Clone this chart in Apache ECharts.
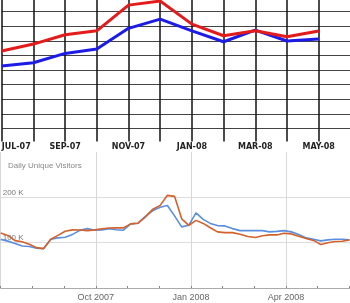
<!DOCTYPE html>
<html>
<head>
<meta charset="utf-8">
<script src="https://cdn.jsdelivr.net/npm/echarts@6/dist/echarts.min.js"></script>
<style>
html,body{margin:0;padding:0;background:#fff;}
#c{width:350px;height:303px;}
</style>
</head>
<body>
<div id="c"></div>
<script>
// ---- top chart (monthly) ----
var monthLabels = ['JUL-07','AUG-07','SEP-07','OCT-07','NOV-07','DEC-07','JAN-08','FEB-08','MAR-08','APR-08','MAY-08','JUN-08'];
var redMonthly  = [5.30, 5.78, 6.42, 6.69, 8.45, 8.73, 7.15, 6.35, 6.69, 6.28, 6.67, null];
var blueMonthly = [4.27, 4.50, 5.14, 5.44, 6.86, 7.49, 6.69, 5.94, 6.74, 5.99, 6.12, null];

// ---- bottom chart (weekly, Daily Unique Visitors, in K) ----
var weekDates = [
 '2007-07-01','2007-07-08','2007-07-15','2007-07-22','2007-07-29',
 '2007-08-05','2007-08-12','2007-08-19','2007-08-26',
 '2007-09-02','2007-09-09','2007-09-16','2007-09-23','2007-09-30',
 '2007-10-07','2007-10-14','2007-10-21','2007-10-28',
 '2007-11-04','2007-11-11','2007-11-18','2007-11-25',
 '2007-12-02','2007-12-09','2007-12-16','2007-12-23','2007-12-30',
 '2008-01-06','2008-01-13','2008-01-20','2008-01-27',
 '2008-02-03','2008-02-10','2008-02-17','2008-02-24',
 '2008-03-02','2008-03-09','2008-03-16','2008-03-23','2008-03-30',
 '2008-04-06','2008-04-13','2008-04-20','2008-04-27',
 '2008-05-04','2008-05-11','2008-05-18','2008-05-25',
 '2008-06-01'];
var blueDaily = [107.2,103.4,98.3,92.8,91.7,87.7,86.9,107.6,110.5,112.0,118.2,127.1,131.0,127.5,128.2,131.0,128.6,127.5,141.4,143.0,158.0,170.8,178.3,181.9,159.1,134.8,138.6,165.7,151.4,142.5,137.7,137.0,131.0,126.6,126.6,126.6,126.6,123.8,124.9,126.6,123.8,118.0,110.5,107.6,103.9,106.1,107.6,107.6,106.1];
var redDaily  = [121.5,116.0,104.5,101.9,96.6,89.1,86.9,107.6,116.0,125.3,128.2,128.0,126.6,128.2,130.8,132.2,132.6,132.6,141.4,143.0,156.9,173.9,182.3,204.4,202.2,152.5,138.1,149.2,142.5,133.0,123.8,122.2,122.2,118.5,113.6,111.4,115.4,117.1,117.1,120.7,119.3,114.3,109.4,105.0,96.1,99.9,102.5,103.0,106.1];
var dailyTickLabels = {3:'Oct 2007', 6:'Jan 2008', 9:'Apr 2008'};
var visitorTickLabels = {100:'100 K', 200:'200 K'};

function monthPos(s){
  var p = s.split('-'), y = +p[0], m = +p[1], d = +p[2];
  var dim = new Date(y, m, 0).getDate();
  return (y - 2007) * 12 + (m - 7) + (d - 1) / dim;
}
var bluePts = weekDates.map(function(d,i){return [monthPos(d), blueDaily[i]];});
var redPts  = weekDates.map(function(d,i){return [monthPos(d), redDaily[i]];});

var chart = echarts.init(document.getElementById('c'), null, {renderer:'canvas'});
chart.setOption({
  animation:false,
  backgroundColor:'#fff',
  title:{
    text:'Daily Unique Visitors', left:3, top:157,
    textStyle:{fontSize:8, fontWeight:'normal', color:'#888', fontFamily:'Liberation Sans'}
  },
  grid:[
    {left:1.7, top:-2.9, width:348.7, height:131.3, outerBoundsMode:'none', containLabel:false},
    {left:0.7, top:152, width:380.4, height:136, outerBoundsMode:'none', containLabel:false}
  ],
  xAxis:[
    {gridIndex:0, type:'category', data:monthLabels, boundaryGap:false,
     axisLine:{show:false},
     axisTick:{show:true, interval:0, length:13, lineStyle:{color:'#111', width:1.5}},
     axisLabel:{interval:1, margin:15, fontSize:8, fontWeight:'bold', color:'#222', fontFamily:'DejaVu Sans', alignMinLabel:'left'},
     splitLine:{show:true, interval:0, lineStyle:{color:'#111', width:1.5}}},
    {gridIndex:1, type:'value', min:0, max:12, interval:1,
     axisLine:{show:true, lineStyle:{color:'#aaa', width:1}},
     axisTick:{show:true, inside:true, length:2, lineStyle:{color:'#888'}},
     axisLabel:{margin:5, fontSize:9, color:'#666', fontFamily:'Liberation Sans',
       formatter:function(v){return dailyTickLabels[Math.round(v)] || '';}},
     splitLine:{show:true, lineStyle:{color:['#d8d8d8','rgba(0,0,0,0)','rgba(0,0,0,0)'], width:1}}}
  ],
  yAxis:[
    {gridIndex:0, type:'value', min:0, max:9, interval:1,
     axisLine:{show:false}, axisTick:{show:false}, axisLabel:{show:false},
     splitLine:{show:true, lineStyle:{color:'#444', width:1}}},
    {gridIndex:1, type:'value', min:0, max:300, interval:100,
     axisLine:{show:false}, axisTick:{show:false},
     axisLabel:{inside:true, margin:2, fontSize:8, color:'#777', fontFamily:'Liberation Sans', verticalAlign:'bottom', padding:[0,0,1,0],
       formatter:function(v){return visitorTickLabels[v] || '';}},
     splitLine:{show:true, showMinLine:false, showMaxLine:false, lineStyle:{color:'#ddd', width:1}}}
  ],
  series:[
    {type:'line', xAxisIndex:0, yAxisIndex:0, data:blueMonthly, symbol:'none', lineStyle:{color:'#1c1ce6', width:3}, itemStyle:{color:'#1c1ce6'}},
    {type:'line', xAxisIndex:0, yAxisIndex:0, data:redMonthly, symbol:'none', lineStyle:{color:'#e41b1b', width:3}, itemStyle:{color:'#e41b1b'}},
    {type:'line', xAxisIndex:1, yAxisIndex:1, data:bluePts, symbol:'none', lineStyle:{color:'#5a8ee0', width:1.6}, itemStyle:{color:'#5a8ee0'}},
    {type:'line', xAxisIndex:1, yAxisIndex:1, data:redPts, symbol:'none', lineStyle:{color:'#d4602a', width:1.6}, itemStyle:{color:'#d4602a'}}
  ]
});
</script>
</body>
</html>
